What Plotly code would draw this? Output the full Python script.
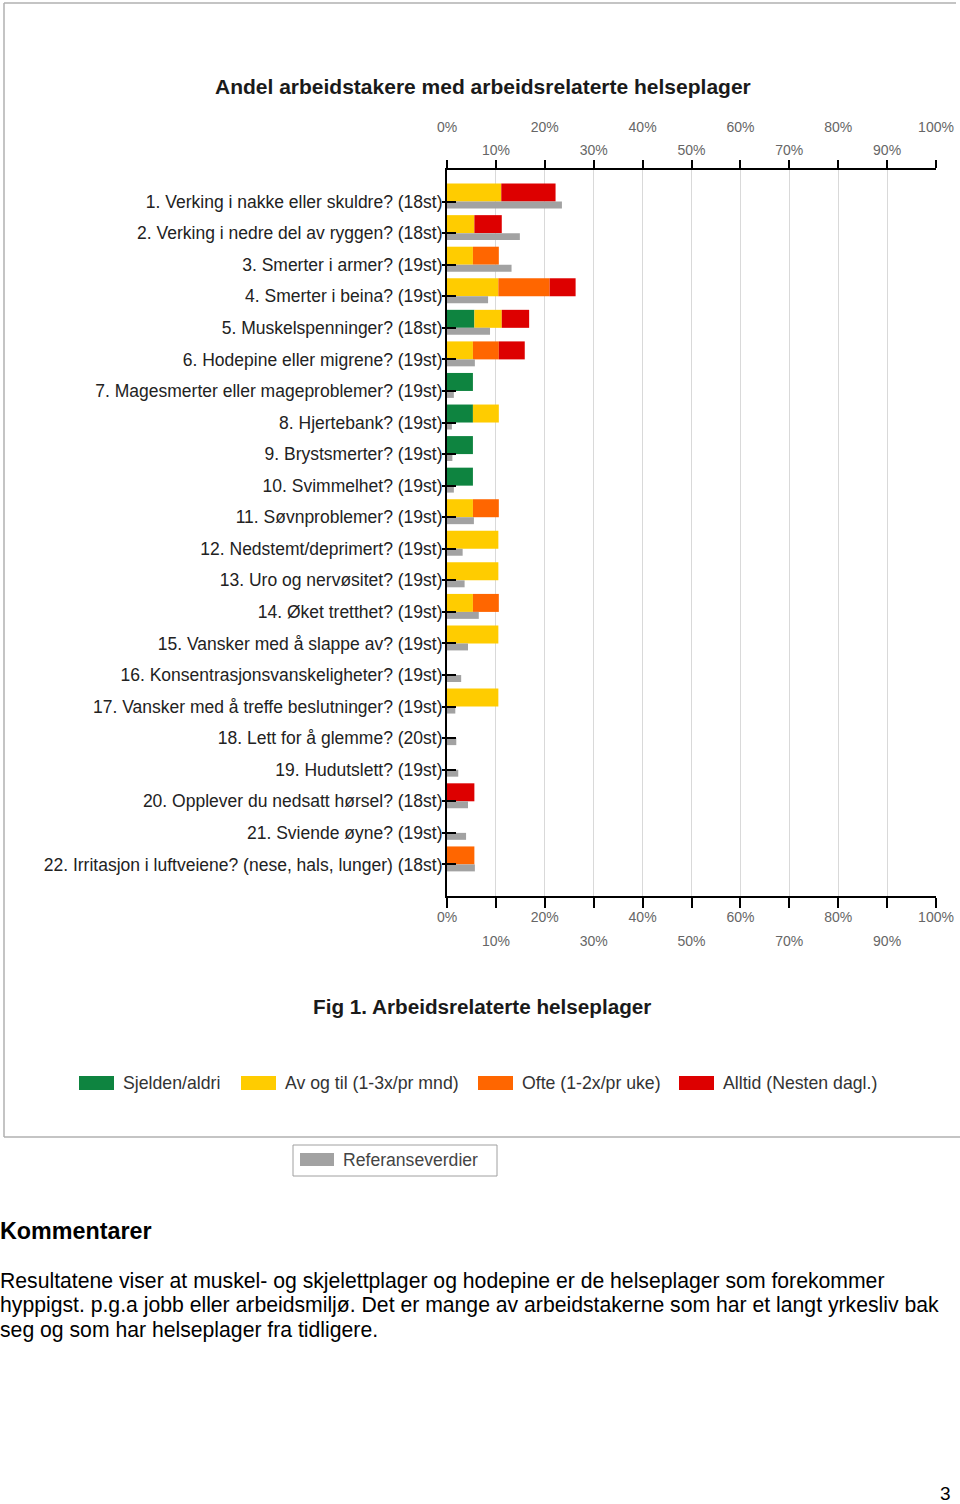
import plotly.graph_objects as go

# ---------------- data ----------------
labels = [
    "1. Verking i nakke eller skuldre? (18st)",
    "2. Verking i nedre del av ryggen? (18st)",
    "3. Smerter i armer? (19st)",
    "4. Smerter i beina? (19st)",
    "5. Muskelspenninger? (18st)",
    "6. Hodepine eller migrene? (19st)",
    "7. Magesmerter eller mageproblemer? (19st)",
    "8. Hjertebank? (19st)",
    "9. Brystsmerter? (19st)",
    "10. Svimmelhet? (19st)",
    "11. Søvnproblemer? (19st)",
    "12. Nedstemt/deprimert? (19st)",
    "13. Uro og nervøsitet? (19st)",
    "14. Øket tretthet? (19st)",
    "15. Vansker med å slappe av? (19st)",
    "16. Konsentrasjonsvanskeligheter? (19st)",
    "17. Vansker med å treffe beslutninger? (19st)",
    "18. Lett for å glemme? (20st)",
    "19. Hudutslett? (19st)",
    "20. Opplever du nedsatt hørsel? (18st)",
    "21. Sviende øyne? (19st)",
    "22. Irritasjon i luftveiene? (nese, hals, lunger) (18st)",
]
sjelden = [0, 0, 0, 0, 5.6, 0, 5.3, 5.3, 5.3, 5.3, 0, 0, 0, 0, 0, 0, 0, 0, 0, 0, 0, 0]
avogtil = [11.1, 5.6, 5.3, 10.5, 5.6, 5.3, 0, 5.3, 0, 0, 5.3, 10.5, 10.5, 5.3, 10.5, 0, 10.5, 0, 0, 0, 0, 0]
ofte = [0, 0, 5.3, 10.5, 0, 5.3, 0, 0, 0, 0, 5.3, 0, 0, 5.3, 0, 0, 0, 0, 0, 0, 0, 5.6]
alltid = [11.1, 5.6, 0, 5.3, 5.6, 5.3, 0, 0, 0, 0, 0, 0, 0, 0, 0, 0, 0, 0, 0, 5.6, 0, 0]
referanse = [23.5, 14.9, 13.2, 8.4, 8.8, 5.7, 1.4, 1.0, 1.1, 1.4, 5.5, 3.2, 3.6, 6.5, 4.3, 2.9, 1.7, 1.9, 2.3, 4.3, 3.9, 5.7]

series_names = ["Sjelden/aldri", "Av og til (1-3x/pr mnd)", "Ofte (1-2x/pr uke)", "Alltid (Nesten dagl.)"]
series_values = [sjelden, avogtil, ofte, alltid]
series_colors = ["#0E8440", "#FFCC00", "#FF6600", "#DD0000"]
ref_name = "Referanseverdier"
ref_color = "#A2A2A2"

tick_vals = list(range(0, 101, 10))
tick_text = [f"{v}%" for v in tick_vals]

title_text = "Andel arbeidstakere med arbeidsrelaterte helseplager"
caption_text = "Fig 1. Arbeidsrelaterte helseplager"
comment_title = "Kommentarer"
comment_lines = [
    "Resultatene viser at muskel- og skjelettplager og hodepine er de helseplager som forekommer",
    "hyppigst. p.g.a jobb eller arbeidsmiljø. Det er mange av arbeidstakerne som har et langt yrkesliv bak",
    "seg og som har helseplager fra tidligere.",
]
page_number = "3"

# ---------------- layout geometry ----------------
W, H = 960, 1504
L, R, T, B = 447, 24, 170, 608
PW, PH = W - L - R, H - T - B
FONT = "Liberation Sans, Arial, sans-serif"


def px(x):
    return (x - L) / PW


def py(y):
    return (H - B - y) / PH


fig = go.Figure()

# stacked coloured bars (above category centre)
base = [0.0] * len(labels)
for name, vals, col in zip(series_names, series_values, series_colors):
    fig.add_trace(go.Bar(
        y=labels, x=vals, base=list(base), orientation="h", name=name,
        marker=dict(color=col, line=dict(width=0)),
        width=0.57, offset=-0.57, showlegend=False,
    ))
    base = [b + v for b, v in zip(base, vals)]

# reference bars (below category centre)
fig.add_trace(go.Bar(
    y=labels, x=referanse, orientation="h", name=ref_name,
    marker=dict(color=ref_color, line=dict(width=0)),
    width=0.22, offset=0.0, showlegend=False, yaxis="y2",
))

# invisible helpers so overlay axes are drawn
for ax in ["x2", "x3", "x4"]:
    fig.add_trace(go.Scatter(x=[50], y=[labels[0]], xaxis=ax, mode="markers",
                             marker=dict(opacity=0), hoverinfo="skip", showlegend=False))

even_text = [t if v % 20 == 0 else "" for v, t in zip(tick_vals, tick_text)]
odd_text = [t if v % 20 != 0 else "" for v, t in zip(tick_vals, tick_text)]
tickfont = dict(family=FONT, size=14, color="#666666")

yrange = [22.0, -1.0]

fig.update_layout(
    width=W, height=H, autosize=False,
    margin=dict(l=L, r=R, t=T, b=B, pad=0, autoexpand=False),
    paper_bgcolor="white", plot_bgcolor="white",
    barmode="overlay",
    xaxis=dict(range=[0, 100], tickmode="array", tickvals=tick_vals, ticktext=even_text,
               ticks="outside", ticklen=10, tickwidth=1.5, tickcolor="black",
               showline=True, linecolor="black", linewidth=1.5, automargin=False,
               showgrid=True, gridcolor="#D9D9D9", gridwidth=1, zeroline=False,
               tickfont=tickfont, side="bottom", anchor="y", ticklabelstandoff=-3),
    xaxis2=dict(range=[0, 100], overlaying="x", side="bottom", anchor="y", automargin=False,
                tickmode="array", tickvals=tick_vals, ticktext=odd_text,
                ticks="", showline=False, showgrid=False, zeroline=False,
                tickfont=tickfont, ticklabelstandoff=35),
    xaxis3=dict(range=[0, 100], overlaying="x", side="top", anchor="y", automargin=False,
                tickmode="array", tickvals=tick_vals, ticktext=odd_text,
                ticks="outside", ticklen=8, tickwidth=1.5, tickcolor="black",
                showline=True, linecolor="black", linewidth=1.5,
                showgrid=False, zeroline=False, tickfont=tickfont),
    xaxis4=dict(range=[0, 100], overlaying="x", side="top", anchor="y", automargin=False,
                tickmode="array", tickvals=tick_vals, ticktext=even_text,
                ticks="", showline=False, showgrid=False, zeroline=False,
                tickfont=tickfont, ticklabelstandoff=34),
    yaxis=dict(type="category", categoryorder="array", categoryarray=labels, automargin=False,
               range=yrange, ticks="outside", ticklen=3, tickwidth=1.5, tickcolor="black",
               showline=True, linecolor="black", linewidth=2, showgrid=False,
               ticklabelstandoff=-4,
               tickfont=dict(family=FONT, size=17.5, color="#222222"), anchor="x"),
    yaxis2=dict(type="category", categoryorder="array", categoryarray=labels, automargin=False,
                range=yrange, overlaying="y", side="left", anchor="x",
                ticks="inside", ticklen=9, tickwidth=1.5, tickcolor="black",
                showticklabels=False, showline=False, showgrid=False),
    showlegend=False,
)

ann = []
ann.append(dict(text=f"<b>{title_text}</b>", x=px(483), y=py(87), xanchor="center", yanchor="middle",
                font=dict(family=FONT, size=21, color="#1a1a1a")))
ann.append(dict(text=f"<b>{caption_text}</b>", x=px(482), y=py(1006), xanchor="center", yanchor="middle",
                font=dict(family=FONT, size=20.7, color="#1a1a1a")))

shapes = []
# legend
legend_pos = [79, 241, 478, 679]
for name, col, x0 in zip(series_names, series_colors, legend_pos):
    shapes.append(dict(type="rect", xref="paper", yref="paper", x0=px(x0), x1=px(x0 + 35),
                       y0=py(1090), y1=py(1076), fillcolor=col, line=dict(width=0)))
    ann.append(dict(text=name, x=px(x0 + 42), y=py(1083), xanchor="left", yanchor="middle",
                    font=dict(family=FONT, size=17.7, color="#333333")))

# chart border
bc = "#B0B0B0"
shapes.append(dict(type="line", xref="paper", yref="paper", x0=px(4), x1=px(956), y0=py(3), y1=py(3),
                   line=dict(color=bc, width=1.5)))
shapes.append(dict(type="line", xref="paper", yref="paper", x0=px(4), x1=px(4), y0=py(3), y1=py(1137),
                   line=dict(color=bc, width=1.5)))
shapes.append(dict(type="line", xref="paper", yref="paper", x0=px(4), x1=px(960), y0=py(1137), y1=py(1137),
                   line=dict(color=bc, width=1.5)))

# reference legend box
shapes.append(dict(type="rect", xref="paper", yref="paper", x0=px(293), x1=px(497), y0=py(1176), y1=py(1145),
                   line=dict(color="#A0A0A0", width=1), fillcolor="white"))
shapes.append(dict(type="rect", xref="paper", yref="paper", x0=px(300), x1=px(334), y0=py(1166), y1=py(1153),
                   line=dict(width=0), fillcolor=ref_color))
ann.append(dict(text=ref_name, x=px(341), y=py(1160), xanchor="left", yanchor="middle",
                font=dict(family=FONT, size=17.6, color="#444444")))

# comments
ann.append(dict(text=f"<b>{comment_title}</b>", x=px(-2), y=py(1231), xanchor="left", yanchor="middle",
                font=dict(family=FONT, size=23.3, color="black")))
for i, line in enumerate(comment_lines):
    ann.append(dict(text=line, x=px(-2), y=py(1281 + i * 24.5), xanchor="left", yanchor="middle",
                    font=dict(family=FONT, size=21.2, color="black")))
ann.append(dict(text=page_number, x=px(945), y=py(1493), xanchor="center", yanchor="middle",
                font=dict(family=FONT, size=19, color="black")))

for a in ann:
    a.update(xref="paper", yref="paper", showarrow=False)

fig.update_layout(annotations=ann, shapes=shapes)

fig.write_html("out.html", config={"displayModeBar": False, "responsive": False},
               post_script="document.body.style.margin='0';document.body.style.overflow='hidden';")
